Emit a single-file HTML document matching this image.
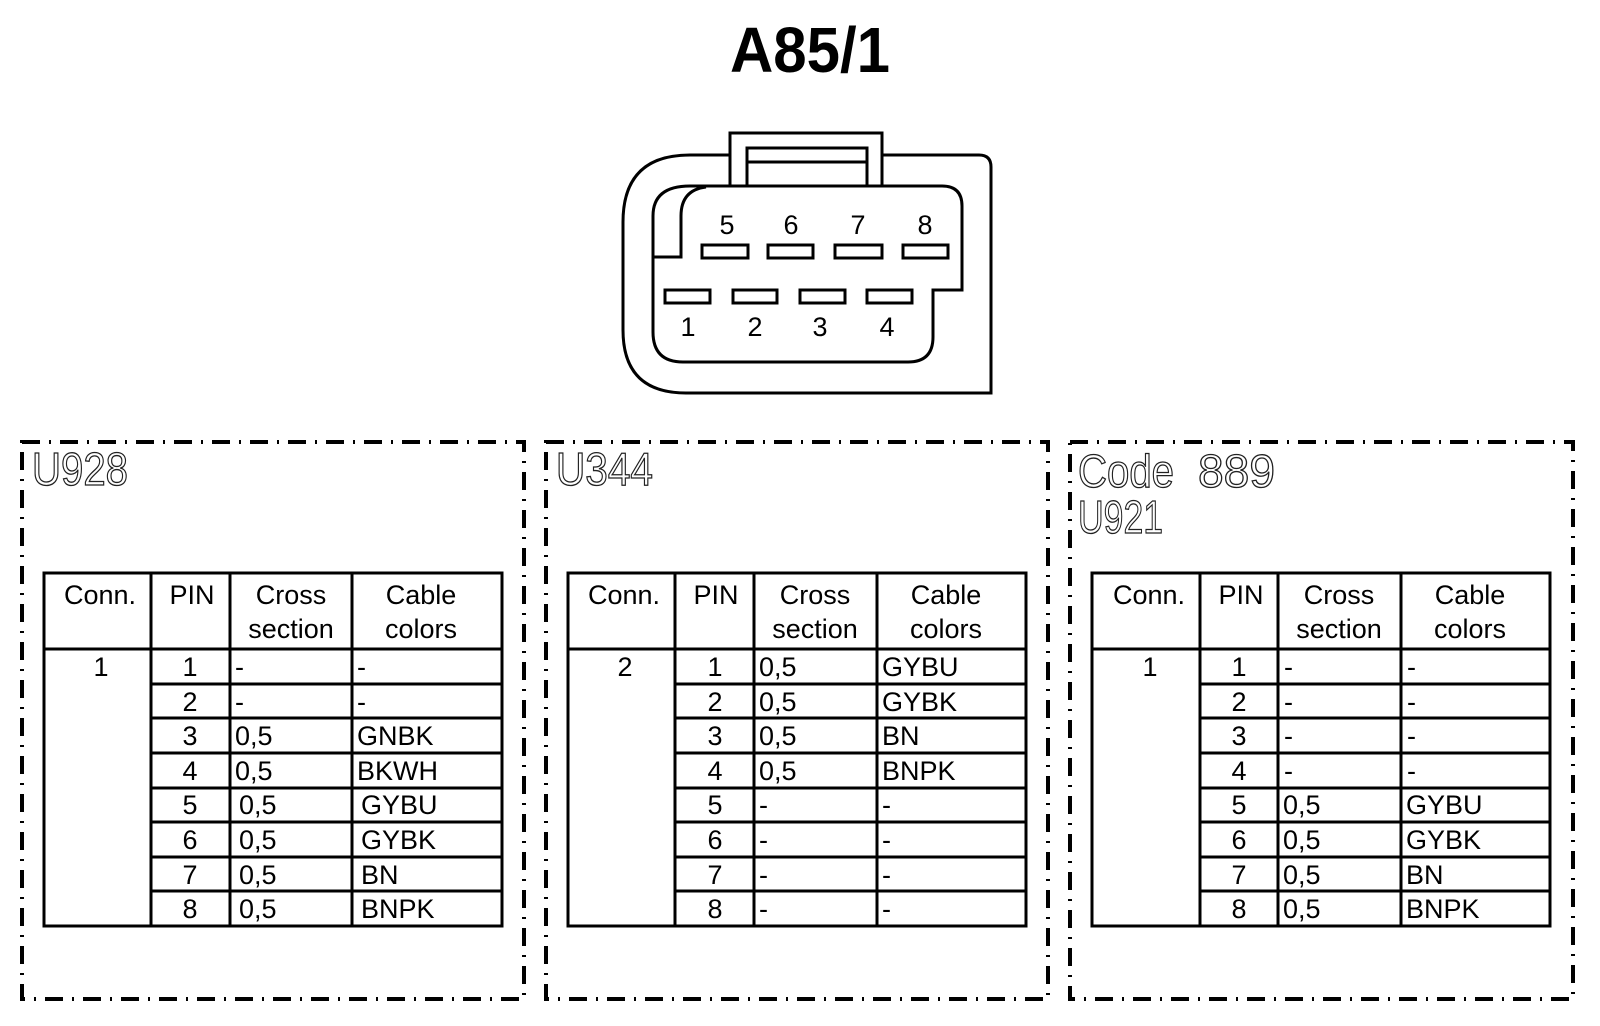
<!DOCTYPE html>
<html><head><meta charset="utf-8"><style>html,body{margin:0;padding:0;background:#fff}svg{display:block}</style></head>
<body>
<svg width="1600" height="1026" viewBox="0 0 1600 1026" xmlns="http://www.w3.org/2000/svg">
<rect width="1600" height="1026" fill="#fff"/>
<text x="810" y="72" font-family="Liberation Sans, sans-serif" font-weight="bold" font-size="64" text-anchor="middle" textLength="160" lengthAdjust="spacingAndGlyphs">A85/1</text>

<g fill="none" stroke="#000" stroke-width="3">
<path d="M730,155 L690,155 Q623,155 623,222 L623,330 Q623,393 686,393 L991,393 L991,167 Q991,155 979,155 L882,155"/>
<path d="M730,185 L730,133 L882,133 L882,185"/>
<path d="M747,185 L747,148 L867,148 L867,185 M747,162 L867,162"/>
<path d="M690,186 L942,186 Q962,186 962,206 L962,290 L933,290 L933,337 Q933,362 908,362 L683,362 Q653,362 653,332 L653,216 Q653,186 690,186"/>
<path d="M653,257 L681,257 L681,216 Q681,190 706,187"/>
<rect x="702" y="245" width="46" height="13"/><rect x="768" y="245" width="45" height="13"/><rect x="835" y="245" width="47" height="13"/><rect x="903" y="245" width="45" height="13"/>
<rect x="665" y="290" width="45" height="13"/><rect x="733" y="290" width="44" height="13"/><rect x="800" y="290" width="45" height="13"/><rect x="867" y="290" width="45" height="13"/>
</g>
<g font-family="Liberation Sans, sans-serif" font-size="27" text-anchor="middle">
<text x="727" y="234">5</text><text x="791" y="234">6</text><text x="858" y="234">7</text><text x="925" y="234">8</text>
<text x="688" y="336">1</text><text x="755" y="336">2</text><text x="820" y="336">3</text><text x="887" y="336">4</text>
</g>

<g fill="none" stroke="#000" stroke-width="4" stroke-dasharray="18 9 2 9">
<rect x="22" y="442" width="502" height="557"/>
<rect x="546" y="442" width="502" height="557"/>
<rect x="1070" y="442" width="503" height="557"/>
</g>

<g font-family="Liberation Sans, sans-serif" font-size="46" fill="#fff" stroke="#222" stroke-width="1.3">
<text x="32" y="485" textLength="96" lengthAdjust="spacingAndGlyphs">U928</text>
<text x="556" y="485" textLength="97" lengthAdjust="spacingAndGlyphs">U344</text>
<text x="1078" y="487" textLength="96" lengthAdjust="spacingAndGlyphs">Code</text>
<text x="1198" y="487" textLength="77" lengthAdjust="spacingAndGlyphs">889</text>
<text x="1078" y="533" textLength="85" lengthAdjust="spacingAndGlyphs">U921</text>
</g>

<g fill="none" stroke="#000" stroke-width="3">
<rect x="44" y="573" width="458" height="353"/>
<path d="M44,649 H502 M151,573 V926 M230,573 V926 M352,573 V926 M151,684 H502 M151,718 H502 M151,753 H502 M151,788 H502 M151,822 H502 M151,857 H502 M151,891 H502"/>
<rect x="568" y="573" width="458" height="353"/>
<path d="M568,649 H1026 M675,573 V926 M754,573 V926 M877,573 V926 M675,684 H1026 M675,718 H1026 M675,753 H1026 M675,788 H1026 M675,822 H1026 M675,857 H1026 M675,891 H1026"/>
<rect x="1092" y="573" width="458" height="353"/>
<path d="M1092,649 H1550 M1200,573 V926 M1278,573 V926 M1401,573 V926 M1200,684 H1550 M1200,718 H1550 M1200,753 H1550 M1200,788 H1550 M1200,822 H1550 M1200,857 H1550 M1200,891 H1550"/>
</g>

<g font-family="Liberation Sans, sans-serif" font-size="27" text-anchor="middle">
<text x="100" y="604">Conn.</text><text x="192" y="604">PIN</text><text x="291" y="604">Cross</text><text x="291" y="638">section</text><text x="421" y="604">Cable</text><text x="421" y="638">colors</text>
<text x="624" y="604">Conn.</text><text x="716" y="604">PIN</text><text x="815" y="604">Cross</text><text x="815" y="638">section</text><text x="946" y="604">Cable</text><text x="946" y="638">colors</text>
<text x="1149" y="604">Conn.</text><text x="1241" y="604">PIN</text><text x="1339" y="604">Cross</text><text x="1339" y="638">section</text><text x="1470" y="604">Cable</text><text x="1470" y="638">colors</text>
<text x="101" y="676">1</text><text x="625" y="676">2</text><text x="1150" y="676">1</text>
<text x="190" y="676">1</text><text x="190" y="711">2</text><text x="190" y="745">3</text><text x="190" y="780">4</text><text x="190" y="814">5</text><text x="190" y="849">6</text><text x="190" y="884">7</text><text x="190" y="918">8</text>
<text x="715" y="676">1</text><text x="715" y="711">2</text><text x="715" y="745">3</text><text x="715" y="780">4</text><text x="715" y="814">5</text><text x="715" y="849">6</text><text x="715" y="884">7</text><text x="715" y="918">8</text>
<text x="1239" y="676">1</text><text x="1239" y="711">2</text><text x="1239" y="745">3</text><text x="1239" y="780">4</text><text x="1239" y="814">5</text><text x="1239" y="849">6</text><text x="1239" y="884">7</text><text x="1239" y="918">8</text>
</g>
<g font-family="Liberation Sans, sans-serif" font-size="27">
<text x="235" y="676">-</text><text x="357" y="676">-</text>
<text x="235" y="711">-</text><text x="357" y="711">-</text>
<text x="235" y="745">0,5</text><text x="357" y="745">GNBK</text>
<text x="235" y="780">0,5</text><text x="357" y="780">BKWH</text>
<text x="239" y="814">0,5</text><text x="361" y="814">GYBU</text>
<text x="239" y="849">0,5</text><text x="361" y="849">GYBK</text>
<text x="239" y="884">0,5</text><text x="361" y="884">BN</text>
<text x="239" y="918">0,5</text><text x="361" y="918">BNPK</text>

<text x="759" y="676">0,5</text><text x="882" y="676">GYBU</text>
<text x="759" y="711">0,5</text><text x="882" y="711">GYBK</text>
<text x="759" y="745">0,5</text><text x="882" y="745">BN</text>
<text x="759" y="780">0,5</text><text x="882" y="780">BNPK</text>
<text x="759" y="814">-</text><text x="882" y="814">-</text>
<text x="759" y="849">-</text><text x="882" y="849">-</text>
<text x="759" y="884">-</text><text x="882" y="884">-</text>
<text x="759" y="918">-</text><text x="882" y="918">-</text>

<text x="1284" y="676">-</text><text x="1407" y="676">-</text>
<text x="1284" y="711">-</text><text x="1407" y="711">-</text>
<text x="1284" y="745">-</text><text x="1407" y="745">-</text>
<text x="1284" y="780">-</text><text x="1407" y="780">-</text>
<text x="1283" y="814">0,5</text><text x="1406" y="814">GYBU</text>
<text x="1283" y="849">0,5</text><text x="1406" y="849">GYBK</text>
<text x="1283" y="884">0,5</text><text x="1406" y="884">BN</text>
<text x="1283" y="918">0,5</text><text x="1406" y="918">BNPK</text>
</g>
</svg>
</body></html>
